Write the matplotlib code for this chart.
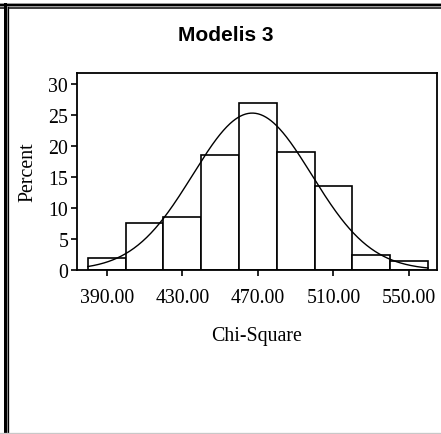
import numpy as np
import matplotlib
matplotlib.use("Agg")
import matplotlib.pyplot as plt
from matplotlib.lines import Line2D

# Histogram of chi-square values (percent of samples per 20-unit bin)
bin_starts = [380, 400, 420, 440, 460, 480, 500, 520, 540]
bin_width = 20
percents = [2.0, 7.6, 8.6, 18.5, 27.0, 19.0, 13.5, 2.5, 1.5]

# Fitted normal curve parameters
curve_mean = 467.0
curve_sd = 31.5

x_ticks = [390, 430, 470, 510, 550]
y_ticks = [0, 5, 10, 15, 20, 25, 30]

W, H = 441, 435
fig = plt.figure(figsize=(W / 100, H / 100), dpi=100)
fig.patch.set_facecolor("white")

ax = fig.add_axes([76.5 / W, 1 - 271 / H, 360.5 / W, 197 / H])
ax.bar(bin_starts, percents, width=bin_width, align="edge",
       facecolor="white", edgecolor="black", linewidth=1.2, zorder=2)

xs = np.linspace(bin_starts[0], bin_starts[-1] + bin_width, 400)
scale = 100 * bin_width / (curve_sd * np.sqrt(2 * np.pi))
ys = scale * np.exp(-0.5 * ((xs - curve_mean) / curve_sd) ** 2)
ax.plot(xs, ys, color="black", linewidth=1.0, zorder=3)

ax.set_xlim(374, 564.8)
ax.set_ylim(0, 31.8)
ax.set_xticks(x_ticks)
ax.set_xticklabels([f"{v:.2f}" for v in x_ticks])
ax.set_yticks(y_ticks)

serif = "Liberation Serif"
for lab in ax.get_xticklabels() + ax.get_yticklabels():
    lab.set_fontfamily(serif)
    lab.set_fontsize(14.3)
ax.tick_params(axis="both", direction="out", length=4, width=1.2,
               color="black", labelcolor="black")
ax.tick_params(axis="x", pad=9)
ax.tick_params(axis="y", pad=2)
for sp in ax.spines.values():
    sp.set_linewidth(1.3)
    sp.set_color("black")

ax.set_xlabel("Chi-Square", fontfamily=serif, fontsize=14.3, labelpad=14)
ax.set_ylabel("Percent", fontfamily=serif, fontsize=14.3, labelpad=8)

fig.text(226 / W, 1 - 36 / H, "Modelis 3", ha="center", va="center",
         fontfamily="Liberation Sans", fontweight="bold", fontsize=15)

# Window frame lines along the top and left edges, thin grey line at the bottom
def hline(y, lw, color):
    fig.add_artist(Line2D([0, 1], [1 - y / H, 1 - y / H], transform=fig.transFigure,
                          color=color, linewidth=lw * 0.72))

def vline(x, lw, color, y0=0):
    fig.add_artist(Line2D([x / W, x / W], [0, 1 - y0 / H], transform=fig.transFigure,
                          color=color, linewidth=lw * 0.72))

hline(4.2, 1, "#9a9a9a")
hline(5.7, 2, "black")
hline(7.3, 1, "#9a9a9a")
hline(9.0, 1.5, "black")
vline(4.5, 3, "black", y0=4.7)
vline(6.7, 1, "#9a9a9a", y0=7)
vline(7.8, 1.3, "black", y0=8.3)
hline(434.2, 1.3, "#c8c8c8")

fig.savefig("out.png", dpi=100, facecolor="white")
